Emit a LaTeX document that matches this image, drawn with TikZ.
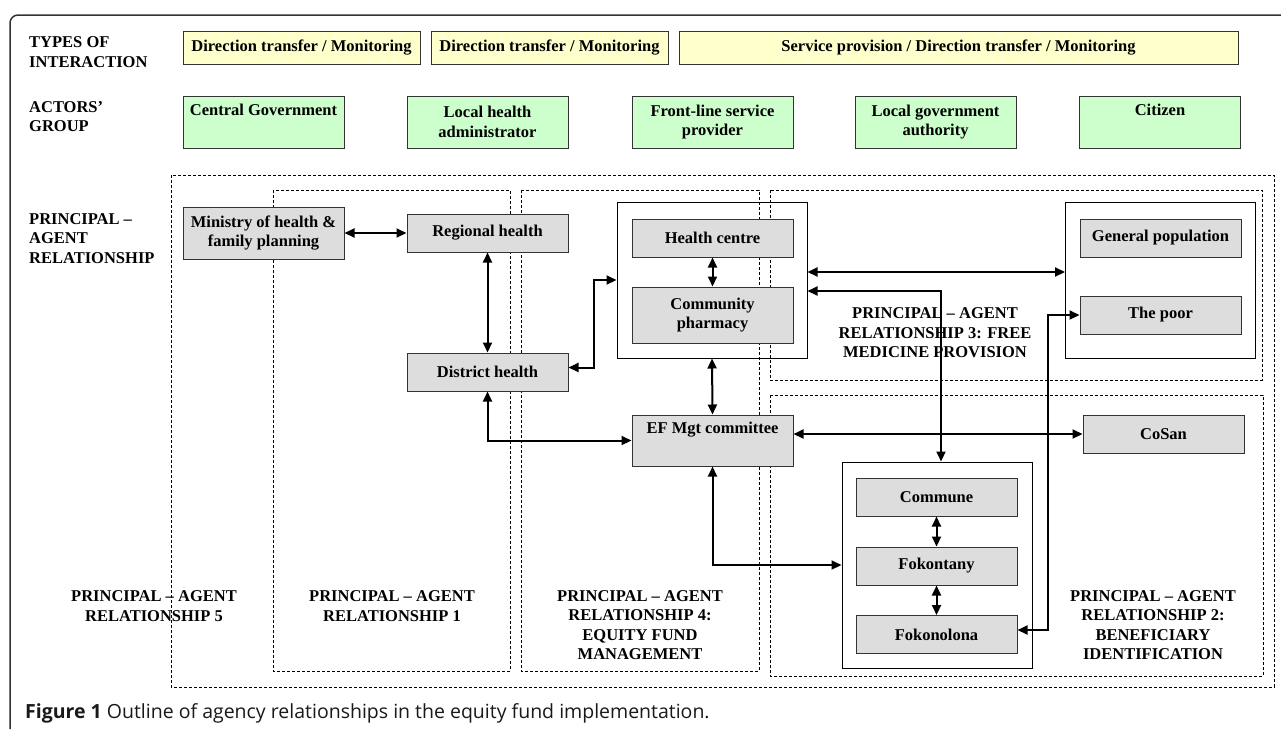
\documentclass[tikz,border=0pt]{standalone}
\usepackage{fontspec}
\setmainfont{Liberation Serif}
\newfontfamily\captionfont{Open Sans}
\usetikzlibrary{arrows.meta, positioning, calc}
\definecolor{paleyellow}{RGB}{255,255,204}
\definecolor{palegreen}{RGB}{204,255,204}
\definecolor{lightgrey}{RGB}{221,221,221}
\definecolor{edgegrey}{RGB}{51,51,51}

\tikzset{
  boxfont/.style={font=\bfseries\fontsize{16.5}{19.5}\selectfont},
  interact/.style={boxfont, draw=edgegrey, line width=1pt, fill=paleyellow, minimum height=33pt, inner sep=0pt},
  actor/.style={boxfont, draw=edgegrey, line width=1pt, fill=palegreen, minimum width=161pt, minimum height=52pt, inner sep=0pt, align=center},
  entity/.style={boxfont, draw=edgegrey, line width=1pt, fill=lightgrey, minimum width=161pt, minimum height=38pt, inner sep=0pt, align=center},
  holder/.style={draw=black, line width=1pt, minimum width=190pt, inner sep=0pt},
  relarea/.style={draw=black, line width=0.7pt, dash pattern=on 3pt off 2pt},
  twoway/.style={{Triangle[length=10pt,width=9pt]}-{Triangle[length=10pt,width=9pt]}, line width=2pt},
  rowlabel/.style={boxfont, align=left, anchor=west, inner sep=0pt},
  rellabel/.style={boxfont, align=center, inner sep=0pt}
}

\begin{document}
\begin{tikzpicture}[x=1pt, y=-1pt]
  \useasboundingbox (0,0) rectangle (1281,729);

  % Outer frame
  \draw[line width=1.5pt, draw=edgegrey, rounded corners=8pt] (10,729) -- (10,15) -- (1281,15);

  % Types of interaction
  \node[rowlabel] (typeslbl) at (29,52) {TYPES OF\\INTERACTION};
  \node[interact, minimum width=237pt] (int1) at (301.5,47.5) {Direction transfer / Monitoring};
  \node[interact, minimum width=237pt] (int2) at (549.5,47.5) {Direction transfer / Monitoring};
  \node[interact, minimum width=559pt] (int3) at (958.5,47.5) {Service provision / Direction transfer / Monitoring};

  % Actors' group
  \node[rowlabel] (actorslbl) at (29,116.5) {ACTORS’\\GROUP};
  \node[actor] (central) at (263.5,122) {Central Government\\\strut};
  \node[actor] (localhealth) at (487.5,122) {Local health\\administrator};
  \node[actor] (frontline) at (712.5,122) {Front-line service\\provider};
  \node[actor] (localgov) at (935.5,122) {Local government\\authority};
  \node[actor] (citizen) at (1160,122) {Citizen\\\strut};

  % Relationship areas
  \draw[relarea] (171,175) rectangle (1274,687);
  \draw[relarea] (273,190) rectangle (510,671);
  \draw[relarea] (521,190) rectangle (759,671);
  \draw[relarea] (770,190) rectangle (1262,380);
  \draw[relarea] (770,395) rectangle (1263,676);

  \node[rowlabel] (pallbl) at (29,238.5) {PRINCIPAL –\\AGENT\\RELATIONSHIP};

  % Health system side
  \node[entity, minimum height=52pt] (ministry) at (263.5,233) {Ministry of health \&\\family planning};
  \node[entity] (regional) at (487.5,233) {Regional health};
  \node[entity] (district) at (487.5,372) {District health};
  \node[holder, minimum height=156pt] (hcgroup) at (712,280) {};
  \node[entity] (centre) at (712.5,238) {Health centre};
  \node[entity, minimum height=56pt] (pharmacy) at (712.5,315) {Community\\pharmacy};
  \node[entity, minimum height=51pt] (efmc) at (712.5,440.5) {EF Mgt committee\\\strut};

  % Citizens side
  \node[holder, minimum height=156pt] (citgroup) at (1160.5,280) {};
  \node[entity] (genpop) at (1160.5,238) {General population};
  \node[entity] (poor) at (1160.5,315) {The poor};
  \node[entity] (cosan) at (1163.5,434) {CoSan};
  \node[holder, minimum height=206pt] (comgroup) at (937,565) {};
  \node[entity] (commune) at (936.5,497) {Commune};
  \node[entity] (fokontany) at (936.5,566) {Fokontany};
  \node[entity] (fokonolona) at (936.5,634.5) {Fokonolona};

  % Links
  \draw[twoway] (ministry.east) -- (regional.west);
  \draw[twoway] (regional.south) -- (district.north);
  \draw[twoway] ([yshift=4.5pt]district.east) -- ++(25,0) |- (hcgroup.west);
  \draw[twoway] (centre.south) -- (pharmacy.north);
  \draw[twoway] (hcgroup.south) -- (efmc.north);
  \draw[twoway] (district.south) |- (efmc.west);
  \draw[twoway] ([yshift=8pt]hcgroup.east) -- ([yshift=8pt]citgroup.west);
  \draw[twoway] ([yshift=-11pt]hcgroup.east) -| ([xshift=4pt]comgroup.north);
  \draw[twoway] (cosan.west -| efmc.east) -- (cosan.west);
  \draw[twoway] (efmc.south) |- (comgroup.west);
  \draw[twoway] (commune.south) -- (fokontany.north);
  \draw[twoway] (fokontany.south) -- (fokonolona.north);
  \draw[twoway] (poor.west) -- ++(-32,0) |- ([yshift=4.5pt]fokonolona.east);

  % Relationship names
  \node[rellabel] (rel5) at (154,606) {PRINCIPAL – AGENT\\RELATIONSHIP 5};
  \node[rellabel] (rel1) at (392,606) {PRINCIPAL – AGENT\\RELATIONSHIP 1};
  \node[rellabel] (rel4) at (640,625) {PRINCIPAL – AGENT\\RELATIONSHIP 4:\\EQUITY FUND\\MANAGEMENT};
  \node[rellabel] (rel3) at (935,333) {PRINCIPAL – AGENT\\RELATIONSHIP 3: FREE\\MEDICINE PROVISION};
  \node[rellabel] (rel2) at (1153,625) {PRINCIPAL – AGENT\\RELATIONSHIP 2:\\BENEFICIARY\\IDENTIFICATION};

  % Caption
  \node[anchor=base west, inner sep=0pt, text=black!90, font=\captionfont\fontsize{19.5}{22}\selectfont] (caption) at (25,718)
    {\textbf{Figure 1} Outline of agency relationships in the equity fund implementation.};
\end{tikzpicture}
\end{document}
